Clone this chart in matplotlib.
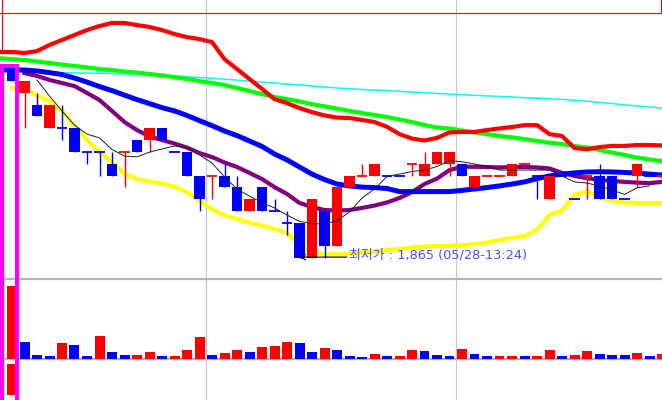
import numpy as np
import matplotlib
matplotlib.use('Agg')
from matplotlib import pyplot as plt
from matplotlib.patches import Rectangle
from matplotlib.lines import Line2D

# candles (price), colour r = up, b = down
opens  = [1945,1935,1930,1920,1920,1920,1910,1910,1905,1910,1915,1915,1920,1910,1910,1900,1900,1900,1895,1885,
          1895,1885,1880,1880,1865,1885,1870,1895,1900,1900,1900,1900,1905,1900,1905,1905,1905,1895,1900,1900,
          1900,1905,1900,1890,1900,1890,1900,1900,1900,1890,1900,1900,1900]
highs  = [1945,1940,1935,1930,1930,1920,1910,1910,1910,1910,1915,1920,1920,1910,1910,1900,1900,1905,1900,1890,
          1895,1890,1885,1880,1890,1885,1895,1900,1905,1905,1900,1900,1905,1910,1910,1910,1905,1900,1900,1900,
          1905,1905,1900,1900,1900,1890,1900,1905,1900,1890,1905,1900,1900]
lows   = [1940,1920,1925,1920,1915,1910,1905,1900,1900,1895,1910,1910,1915,1910,1900,1885,1890,1895,1885,1885,
          1885,1885,1875,1865,1865,1865,1870,1895,1900,1900,1900,1900,1900,1900,1905,1900,1900,1895,1900,1900,
          1900,1905,1890,1890,1900,1890,1890,1890,1890,1890,1895,1900,1900]
closes = [1940,1940,1925,1930,1920,1910,1910,1910,1900,1910,1910,1920,1915,1910,1900,1890,1900,1895,1885,1890,
          1885,1885,1880,1865,1890,1870,1895,1900,1900,1905,1900,1900,1905,1905,1910,1910,1900,1900,1900,1900,
          1905,1905,1900,1900,1900,1890,1900,1890,1890,1890,1905,1900,1900]
candle_col = list('brbrbbbbbrbrbbbbrbbrbbbbrbrrrrbbrrrrbrrrrrbrbbrbbbrbr')

# moving averages, first value belongs to the bar just left of the window
ma_red = [1952.2,1952.2,1951.8,1952.6,1955.2,1957.3,1959.4,1961.5,1963.2,1964.5,1964.5,1963.6,1962.8,1961.5,1959.8,1958.5,
          1957.7,1956.4,1949.2,1945.0,1940.8,1936.6,1932.3,1930.6,1928.5,1926.8,1925.4,1924.5,1924.3,1923.5,1922.6,
          1920.6,1917.5,1915.6,1914.8,1915.9,1918.2,1918.4,1918.4,1919.2,1919.9,1920.5,1921.3,1921.3,1917.5,1916.7,
          1911.6,1911.1,1912.0,1912.5,1912.5,1912.9,1912.9,1912.7]
ma_green = [1949.6,1949.2,1948.8,1948.2,1947.6,1946.9,1946.3,1945.7,1945.0,1944.6,1944.0,1943.5,1942.9,1942.3,1941.6,1940.8,
            1939.9,1939.1,1938.3,1937.0,1935.7,1934.4,1933.2,1932.3,1931.3,1930.2,1929.2,1928.3,1927.3,1926.4,1925.6,
            1924.7,1923.7,1922.6,1921.3,1920.3,1919.9,1919.0,1918.2,1917.5,1916.7,1916.1,1915.4,1914.6,1913.9,1913.3,
            1912.5,1911.8,1910.8,1909.7,1908.7,1907.6,1906.8,1906.1]
ma_cyan = [np.nan,1944.0,1943.8,1943.7,1943.6,1943.5,1943.4,1943.3,1943.2,1943.1,1943.0,1942.8,1942.6,1942.5,1942.1,1941.8,
           1941.4,1941.1,1940.7,1940.3,1939.9,1939.5,1939.1,1938.6,1938.3,1937.8,1937.4,1937.0,1936.7,1936.4,1936.1,
           1935.9,1935.6,1935.3,1935.0,1934.7,1934.4,1934.2,1933.9,1933.7,1933.4,1933.2,1932.9,1932.7,1932.4,1932.2,
           1931.8,1931.4,1930.9,1930.4,1929.9,1929.4,1929.0,1928.5]
ma_blue = [1944.6,1944.6,1944.6,1944.2,1943.5,1942.7,1941.2,1939.5,1937.6,1935.9,1934.0,1932.1,1930.4,1928.7,1927.3,1925.4,
           1923.2,1921.1,1918.8,1916.9,1914.6,1912.3,1909.1,1906.6,1903.6,1900.6,1898.3,1896.4,1895.6,1895.1,1894.9,
           1894.5,1893.2,1893.2,1893.2,1893.2,1893.2,1893.7,1894.3,1894.9,1895.6,1896.4,1897.3,1898.7,1899.8,1900.6,
           1901.1,1901.5,1901.6,1901.5,1901.3,1901.0,1900.6,1900.2]
ma_purple = [np.nan,np.nan,1943.3,1942.1,1940.4,1939.1,1937.8,1934.9,1931.9,1927.3,1922.6,1919.2,1916.5,1915.0,1913.5,1911.8,
             1909.5,1907.8,1905.5,1903.6,1901.1,1898.5,1895.1,1892.2,1888.4,1886.7,1885.4,1885.2,1885.4,1886.3,1887.3,
             1888.6,1890.5,1893.0,1896.4,1898.7,1902.3,1903.7,1903.7,1903.6,1903.4,1903.6,1903.6,1903.4,1903.0,1901.1,
             1899.8,1898.9,1898.1,1897.7,1897.3,1897.0,1896.8,1897.3]
ma_yellow = [np.nan,1936.9,1936.6,1934.0,1931.3,1927.3,1920.9,1915.0,1910.1,1905.7,1900.8,1898.5,1897.5,1896.6,1895.3,1893.0,
             1889.2,1885.8,1883.1,1881.6,1880.1,1878.9,1877.4,1875.7,1870.6,1867.7,1866.7,1866.7,1866.8,1867.5,1867.9,
             1868.5,1868.9,1869.6,1870.0,1870.2,1870.2,1870.6,1871.0,1871.7,1872.7,1873.6,1874.4,1877.0,1883.3,1885.2,
             1891.8,1893.4,1890.9,1889.2,1888.6,1888.4,1888.4,1888.4]
ma_black = [np.nan,np.nan,np.nan,1940.4,1933.6,1927.3,1921.3,1917.5,1915.9,1911.0,1908.2,1907.9,1909.9,1911.2,1912.5,1911.8,
            1908.7,1905.3,1899.4,1894.3,1891.3,1888.6,1886.3,1883.3,1880.6,1879.7,1879.5,1880.8,1884.6,1890.5,1894.3,
            1899.6,1900.6,1901.7,1902.3,1903.8,1906.3,1905.8,1904.9,1903.8,1902.3,1902.3,1902.3,1902.3,1902.3,1899.8,
            1897.3,1896.8,1895.6,1893.9,1892.0,1894.8,1895.6,np.nan]

# volume (shares)
volume = [73000,17000,4000,3000,16000,14000,3000,23000,7000,4000,4000,7000,3000,3000,8500,22000,4000,5500,8500,7000,
          12000,13000,17000,16000,7000,10500,9000,3000,2000,5000,2500,2500,9000,7500,3500,2500,10000,5000,2500,2500,
          2500,2500,2500,9000,2500,3500,7500,5000,3500,3500,6000,2500,5000]
vol_col = list('RBBBRBBRBBRRBRRRBRRBRRRBBRBBBRBRRBBBRBBRRBRRBRRBBBRBR')
vol0_tail = 31000

low_idx, low_price = 23, 1865
low_label = '최저가 : 1,865 (05/28-13:24)'
day_breaks = [15.5, 35.5]

RED, BLUE = '#ff0000', '#0000ff'
cmap = {'r': RED, 'b': BLUE, 'R': RED, 'B': BLUE}

fig = plt.figure(figsize=(6.62, 4.0), dpi=100)
ax = fig.add_axes([0, 121 / 400, 1, 279 / 400])
axv = fig.add_axes([0, 0, 1, 121 / 400])
x = np.arange(len(opens))
xm = np.arange(-1, len(opens))

for a in (ax, axv):
    a.set_xlim(-0.96, 52.0)
    a.axis('off')
    for d in day_breaks:
        a.axvline(d, color='#c8c8c8', lw=0.9, zorder=0)
ax.set_ylim(1856.25, 1974.2)
axv.set_ylim(-41500, 79500)

# moving averages (under candles)
ax.plot(xm, ma_cyan, color='#00ffff', lw=1.1, zorder=1)
ax.plot(xm, ma_green, color='#00ff00', lw=3.0, zorder=2)
ax.plot(xm, ma_red, color=RED, lw=3.0, zorder=2)
ax.plot(xm, ma_yellow, color='#ffff00', lw=3.0, zorder=2)
ax.plot(xm, ma_purple, color='#800080', lw=3.0, zorder=2)
ax.plot(xm, ma_blue, color=BLUE, lw=3.6, zorder=3)

# candles
for i in x:
    o, h, l, c = opens[i], highs[i], lows[i], closes[i]
    col = cmap[candle_col[i]]
    if h > l:
        ax.vlines(i, l, h, color=col, lw=1.0, zorder=4)
    if o == c:
        ax.hlines(o, i - 0.42, i + 0.42, color=col, lw=1.3, zorder=5)
    else:
        ax.bar(i, abs(c - o), bottom=min(o, c), width=0.86, color=col, lw=0, zorder=5)

ax.plot(xm, ma_black, color='#202020', lw=0.7, zorder=6)

# lowest price note
ax.annotate('', xy=(low_idx - 0.05, low_price + 0.5), xytext=(26.8, low_price + 0.5),
            arrowprops=dict(arrowstyle='->', color='black', lw=0.8, shrinkA=0, shrinkB=0), zorder=7)
ax.text(26.95, low_price, low_label, color='#4b4bff', fontsize=9.3, va='baseline',
        family=['DejaVu Sans', 'Noto Sans CJK KR'], zorder=7)

# red frame at the top
ylo, yhi = ax.get_ylim()
ax.axhline(1968.7, color=RED, lw=0.8, zorder=1)
ax.axvline(-0.8, ymin=(1951.8 - ylo) / (yhi - ylo), ymax=1, color=RED, lw=0.8, zorder=1)
ax.axvline(51.92, ymin=(1968.7 - ylo) / (yhi - ylo), ymax=1, color=RED, lw=0.8, zorder=1)

# volume
axv.axhline(0, color='#b4b4b4', lw=1.6, zorder=1)
axv.bar(x, volume, width=0.8, color=[cmap[c] for c in vol_col], lw=0, zorder=2)
axv.bar(0, vol0_tail, bottom=-5500 - vol0_tail, width=0.8, color=RED, lw=0, zorder=2)

# panel separator
fig.add_artist(Line2D([0, 1], [121 / 400, 121 / 400], color='#b4b4b4', lw=1.6))

# magenta highlight box round the first candle
fig.canvas.draw()
inv = fig.transFigure.inverted()
x0, y0 = inv.transform(ax.transData.transform((-0.8, 1946.5)))
x1, _ = inv.transform(ax.transData.transform((0.4, 1946.5)))
fig.add_artist(Rectangle((x0, -0.05), x1 - x0, y0 + 0.05, fill=False,
                         edgecolor='#ff00ff', lw=2.9, transform=fig.transFigure, zorder=10))

fig.savefig('out.png', dpi=100)
